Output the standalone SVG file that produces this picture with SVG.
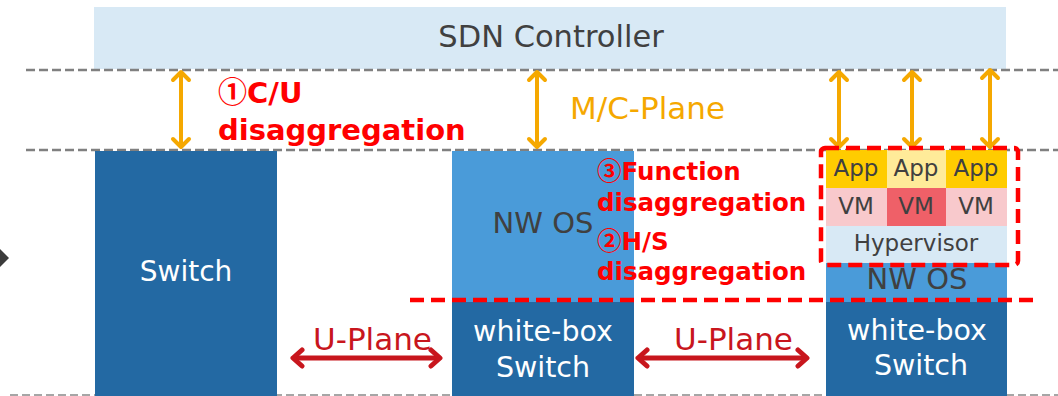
<svg xmlns="http://www.w3.org/2000/svg" width="1058" height="396" viewBox="0 0 1058 396">
  <style>
    .t { font-family: "DejaVu Sans", "Noto Sans CJK JP", sans-serif; }
    .cj { font-family: "Noto Sans CJK JP", sans-serif; font-weight: bold; }
    .gray { fill: #404040; }
    .white { fill: #ffffff; }
    .red { fill: #ff0000; font-weight: bold; }
    .guide { stroke: #808080; stroke-width: 2.5; stroke-dasharray: 9 4; fill: none; }
    .mc { stroke: #f5a800; stroke-width: 4; fill: none; marker-start: url(#oh); marker-end: url(#oh); }
    .up { stroke: #c8161d; stroke-width: 5; fill: none; marker-start: url(#rh); marker-end: url(#rh); }
    .dark { fill: #2369a3; }
    .os { fill: #4a9bd9; }
  </style>
  <defs>
    <marker id="oh" viewBox="-12 -12 24 24" markerWidth="24" markerHeight="24" refX="0" refY="0" orient="auto-start-reverse" markerUnits="userSpaceOnUse">
      <path d="M-8,-8 L0,0 L-8,8" stroke="#f5a800" stroke-width="4" stroke-linecap="round" stroke-linejoin="round" fill="none"/>
    </marker>
    <marker id="rh" viewBox="-12 -12 24 24" markerWidth="24" markerHeight="24" refX="0" refY="0" orient="auto-start-reverse" markerUnits="userSpaceOnUse">
      <path d="M-9,-8 L0,0 L-9,8" stroke="#c8161d" stroke-width="5" stroke-linecap="round" stroke-linejoin="round" fill="none"/>
    </marker>
  </defs>

  <rect width="1058" height="396" fill="#ffffff"/>

  <!-- controller -->
  <g id="controller">
    <rect x="94" y="7" width="912" height="62" fill="#d8e9f5"/>
    <text class="t gray" x="551" y="47" font-size="30.5" text-anchor="middle">SDN Controller</text>
  </g>

  <!-- layer guides -->
  <g id="guides">
    <line class="guide" x1="26" y1="70" x2="1058" y2="70"/>
    <line class="guide" x1="26" y1="150" x2="1058" y2="150"/>
    <line x1="10" y1="395" x2="1058" y2="395" stroke="#a6a6a6" stroke-width="2" stroke-dasharray="8 4"/>
    <polygon points="0,249 9,258 0,267" fill="#3b3b3b"/>
  </g>

  <!-- legacy switch -->
  <g id="switch">
    <rect class="dark" x="95" y="151" width="182" height="245"/>
    <text class="t white" x="186" y="281" font-size="28" text-anchor="middle">Switch</text>
  </g>

  <!-- white-box with NW OS -->
  <g id="whitebox-mid">
    <rect class="os" x="452" y="151" width="182" height="151"/>
    <rect class="dark" x="452" y="302" width="182" height="94"/>
    <text class="t gray" x="543" y="233" font-size="29" text-anchor="middle">NW OS</text>
    <text class="t white" x="543" y="341" font-size="28.5" text-anchor="middle">white-box</text>
    <text class="t white" x="543" y="377" font-size="28.5" text-anchor="middle">Switch</text>
  </g>

  <!-- white-box with hypervisor stack -->
  <g id="whitebox-right">
    <rect x="826" y="150" width="61" height="38" fill="#ffcc00"/>
    <rect x="887" y="150" width="59" height="38" fill="#ffeb99"/>
    <rect x="946" y="150" width="61" height="38" fill="#ffcc00"/>
    <rect x="826" y="188" width="61" height="38" fill="#f8c9cc"/>
    <rect x="887" y="188" width="59" height="38" fill="#ef6068"/>
    <rect x="946" y="188" width="61" height="38" fill="#f8c9cc"/>
    <rect x="826" y="226" width="181" height="37" fill="#d8e9f5"/>
    <rect class="os" x="826" y="263" width="181" height="39"/>
    <rect class="dark" x="826" y="302" width="181" height="94"/>
    <g class="t gray" font-size="23" text-anchor="middle">
      <text x="856" y="176">App</text>
      <text x="916" y="176">App</text>
      <text x="976" y="176">App</text>
      <text x="856" y="214">VM</text>
      <text x="916" y="214">VM</text>
      <text x="976" y="214">VM</text>
      <text x="916" y="251">Hypervisor</text>
    </g>
    <text class="t gray" x="917" y="289" font-size="29" text-anchor="middle">NW OS</text>
    <text class="t white" x="917" y="340" font-size="28.5" text-anchor="middle">white-box</text>
    <text class="t white" x="921" y="375" font-size="28.5" text-anchor="middle">Switch</text>
  </g>

  <!-- connectors -->
  <g id="connectors">
    <line class="mc" x1="181" y1="72" x2="181" y2="147"/>
    <line class="mc" x1="537" y1="72" x2="537" y2="147"/>
    <line class="mc" x1="839" y1="72" x2="839" y2="147"/>
    <line class="mc" x1="912" y1="72" x2="912" y2="147"/>
    <line class="mc" x1="990" y1="70" x2="990" y2="147"/>
    <line class="up" x1="293" y1="358" x2="440" y2="358"/>
    <line class="up" x1="638" y1="358" x2="807" y2="358"/>
  </g>

  <!-- plane labels -->
  <g id="labels">
    <text class="t" x="570" y="119" font-size="31" fill="#f5a800">M/C-Plane</text>
    <text class="t" x="313" y="350" font-size="31" fill="#c8161d">U-Plane</text>
    <text class="t" x="674" y="350" font-size="31" fill="#c8161d">U-Plane</text>
  </g>

  <!-- disaggregation boundaries -->
  <g id="boundaries" fill="none" stroke="#ff0000" stroke-width="4.5" stroke-dasharray="14 7">
    <rect x="821" y="148" width="197" height="117" rx="4"/>
    <line x1="410" y1="300" x2="1033" y2="300"/>
  </g>

  <g id="annotations">
    <text class="t red" x="218" y="103" font-size="29"><tspan class="cj">①</tspan>C/U</text>
    <text class="t red" x="218" y="140" font-size="29">disaggregation</text>
    <text class="t red" x="597" y="180" font-size="24.5"><tspan class="cj">③</tspan>Function</text>
    <text class="t red" x="597" y="211" font-size="24.5">disaggregation</text>
    <text class="t red" x="597" y="250" font-size="24.5"><tspan class="cj">②</tspan>H/S</text>
    <text class="t red" x="597" y="280" font-size="24.5">disaggregation</text>
  </g>
</svg>
